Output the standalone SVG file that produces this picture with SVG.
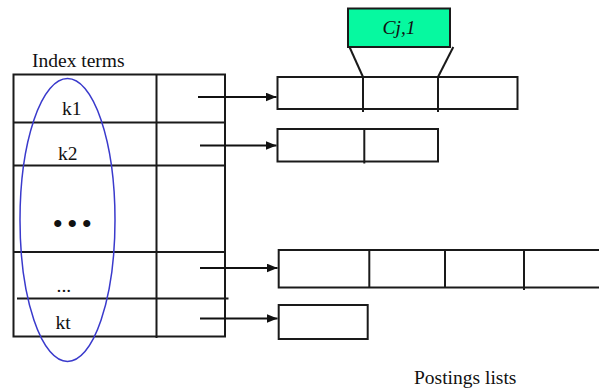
<svg xmlns="http://www.w3.org/2000/svg" width="599" height="392" viewBox="0 0 599 392">
  <defs>
    <style>
      .ln { stroke: #1a1a1a; stroke-width: 2; fill: none; }
      .box { stroke: #1a1a1a; stroke-width: 2; fill: #ffffff; }
      .t { font-family: "Liberation Serif", "Times New Roman", serif; font-size: 19.5px; fill: #111111; }
      .arr { stroke: #111111; stroke-width: 2; fill: none; marker-end: url(#ah); }
    </style>
    <marker id="ah" viewBox="0 0 11 9" refX="11" refY="4.5" markerWidth="11" markerHeight="9" markerUnits="userSpaceOnUse" orient="auto">
      <path d="M0,0 L11,4.5 L0,9 Z" fill="#111111"/>
    </marker>
  </defs>
  <rect width="599" height="392" fill="#ffffff"/>

  <g id="index-table">
    <text class="t" x="32" y="67">Index terms</text>
    <rect class="box" x="13.5" y="74.5" width="211.5" height="262"/>
    <line class="ln" x1="156.5" y1="74.5" x2="156.5" y2="338"/>
    <line class="ln" x1="13.5" y1="122.5" x2="225" y2="122.5"/>
    <line class="ln" x1="13.5" y1="165.5" x2="225" y2="165.5"/>
    <line class="ln" x1="13.5" y1="252" x2="225" y2="252"/>
    <line class="ln" x1="17" y1="298.5" x2="228.5" y2="298.5"/>
    <text class="t" x="62" y="115">k1</text>
    <text class="t" x="58" y="160">k2</text>
    <text class="t" x="52.5" y="233.5" style="font-size:30px;letter-spacing:4px">•••</text>
    <text class="t" x="56.5" y="291.5">...</text>
    <text class="t" x="55.5" y="329">kt</text>
  </g>

  <g id="term-ellipse">
    <ellipse cx="67.5" cy="220" rx="47.5" ry="141.5" fill="none" stroke="#3a3acc" stroke-width="1.5"/>
  </g>

  <g id="posting-1">
    <rect class="box" x="277.5" y="77" width="240" height="32"/>
    <line class="ln" x1="363" y1="77" x2="363" y2="112"/>
    <line class="ln" x1="438" y1="77" x2="438" y2="112"/>
  </g>

  <g id="posting-2">
    <rect class="box" x="277.5" y="129" width="160.5" height="32.5"/>
    <line class="ln" x1="364.3" y1="129" x2="364.3" y2="163.5"/>
  </g>

  <g id="posting-3">
    <rect class="box" x="278.7" y="250" width="340" height="37.5"/>
    <line class="ln" x1="369.3" y1="250" x2="369.3" y2="287.5"/>
    <line class="ln" x1="445" y1="250" x2="445" y2="287.5"/>
    <line class="ln" x1="524" y1="250" x2="524" y2="290"/>
  </g>

  <g id="posting-4">
    <rect class="box" x="278.7" y="305" width="89" height="34"/>
  </g>

  <g id="cj1">
    <rect x="348" y="8.5" width="102" height="38.5" fill="#06f9a0" stroke="#1a1a1a" stroke-width="2"/>
    <text class="t" x="399" y="34" text-anchor="middle" font-style="italic">Cj,1</text>
  </g>

  <g id="connectors">
    <line class="ln" x1="349.5" y1="47" x2="363" y2="77" stroke-width="1.5"/>
    <line class="ln" x1="453.3" y1="47" x2="438" y2="77" stroke-width="1.5"/>
    <line class="arr" x1="198" y1="97" x2="276.5" y2="97"/>
    <line class="arr" x1="200" y1="145.5" x2="276.5" y2="145.5"/>
    <line class="arr" x1="200" y1="268" x2="277.5" y2="268"/>
    <line class="arr" x1="200" y1="318.5" x2="277.5" y2="318.5"/>
  </g>

  <g id="caption">
    <text class="t" x="414" y="384">Postings lists</text>
  </g>
</svg>
